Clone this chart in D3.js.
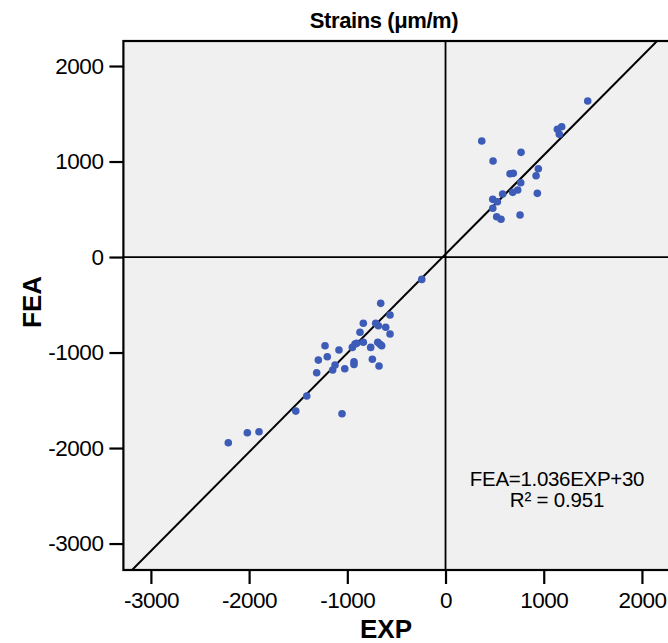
<!DOCTYPE html>
<html>
<head>
<meta charset="utf-8">
<script src="https://cdn.jsdelivr.net/npm/d3@7"></script>
<style>
  html, body { margin: 0; padding: 0; background: #ffffff; }
  svg { display: block; }
  text { font-family: "Liberation Sans", Arial, sans-serif; fill: #000; }
</style>
</head>
<body>
<svg id="chart" width="668" height="643"></svg>
<script>
// ---- data ----
const expVals = [
  1448, 1139, 1183, 1159, 369, 769, 484, 945, 922, 657, 690, 766, 582, 684, 735, 935, 481, 528, 481, 521, 565, 759,
  -242,
  -660, -565, -837, -711, -684, -609, -871, -565, -922, -904, -837, -690, -667, -650, -949, -762,
  -1227, -1085, -1295, -1204, -1125, -1149, -1026, -932, -932, -745, -677, -1312, -1413, -1525, -1054,
  -2018, -1899, -2212
];
const feaVals = [
  1634, 1337, 1364, 1285, 1215, 1096, 1005, 925, 851, 872, 876, 778, 660, 677, 702, 667, 604, 579, 510, 422, 395, 440,
  -234,
  -485, -607, -694, -694, -719, -736, -788, -806, -911, -904, -893, -893, -914, -929, -946, -946,
  -929, -974, -1079, -1044, -1131, -1183, -1170, -1096, -1124, -1071, -1141, -1212, -1455, -1613, -1641,
  -1840, -1829, -1945
];
const xTicks = [-3000, -2000, -1000, 0, 1000, 2000];
const yTicks = [-3000, -2000, -1000, 0, 1000, 2000];
const slope = 1.036;
const intercept = 30;
const titleText = "Strains (\u03bcm/m)";
const xLabel = "EXP";
const yLabel = "FEA";
const eqLine1 = "FEA=1.036EXP+30";
const eqLine2 = "R\u00b2 = 0.951";

// ---- layout ----
const svg = d3.select("#chart");
const x = d3.scaleLinear().domain([-3280, 2300]).range([123.4, 671.4]);
const y = d3.scaleLinear().domain([-3277, 2262]).range([570, 41]);
const [x0, x1] = x.range();
const [y1, y0] = y.range();

svg.append("defs").append("clipPath").attr("id", "plotclip")
  .append("rect").attr("x", x0).attr("y", y0).attr("width", x1 - x0).attr("height", y1 - y0);

// background
svg.append("rect").attr("x", x0).attr("y", y0).attr("width", x1 - x0).attr("height", y1 - y0)
  .attr("fill", "#f0f0f0");

const plot = svg.append("g").attr("clip-path", "url(#plotclip)");

// zero reference lines
plot.append("line").attr("x1", x(0)).attr("x2", x(0)).attr("y1", y0).attr("y2", y1)
  .attr("stroke", "#000").attr("stroke-width", 1.8);
plot.append("line").attr("x1", x0).attr("x2", x1).attr("y1", y(0)).attr("y2", y(0))
  .attr("stroke", "#000").attr("stroke-width", 1.8);

// regression line
const dom = x.domain();
plot.append("line")
  .attr("x1", x(dom[0])).attr("y1", y(slope * dom[0] + intercept))
  .attr("x2", x(dom[1])).attr("y2", y(slope * dom[1] + intercept))
  .attr("stroke", "#000").attr("stroke-width", 2);

// points
plot.selectAll("circle.pt").data(expVals.map((v, i) => [v, feaVals[i]]))
  .enter().append("circle").attr("class", "pt")
  .attr("cx", d => x(d[0])).attr("cy", d => y(d[1])).attr("r", 3.8)
  .attr("fill", "#3d5cb8");

// frame
svg.append("rect").attr("x", x0).attr("y", y0).attr("width", x1 - x0).attr("height", y1 - y0)
  .attr("fill", "none").attr("stroke", "#000").attr("stroke-width", 2.2);

// axes
const fmt = d => String(d);
const xAxis = svg.append("g").attr("transform", `translate(0,${y1})`)
  .call(d3.axisBottom(x).tickValues(xTicks).tickSize(14).tickPadding(8).tickFormat(fmt));
const yAxis = svg.append("g").attr("transform", `translate(${x0},0)`)
  .call(d3.axisLeft(y).tickValues(yTicks).tickSize(14).tickPadding(6).tickFormat(fmt));
[xAxis, yAxis].forEach(g => {
  g.select(".domain").remove();
  g.selectAll(".tick line").attr("stroke", "#000").attr("stroke-width", 2.2);
  g.selectAll(".tick text").attr("font-family", "'Liberation Sans', Arial, sans-serif")
    .attr("font-size", 22.5).attr("fill", "#000").style("letter-spacing", "-0.5px");
});
xAxis.selectAll(".tick text").attr("dy", "0.71em");

// title
svg.append("text").attr("x", 384).attr("y", 28).attr("text-anchor", "middle")
  .attr("font-size", 22).attr("font-weight", "bold").style("letter-spacing", "-0.4px").text(titleText);

// axis titles
svg.append("text").attr("x", 386).attr("y", 638).attr("text-anchor", "middle")
  .attr("font-size", 26).attr("font-weight", "bold").text(xLabel);
svg.append("text").attr("transform", `translate(41,302) rotate(-90)`).attr("text-anchor", "middle")
  .attr("font-size", 26).attr("font-weight", "bold").text(yLabel);

// equation
svg.append("text").attr("x", 557).attr("y", 486).attr("text-anchor", "middle")
  .attr("font-size", 20.5).style("letter-spacing", "-0.3px").text(eqLine1);
svg.append("text").attr("x", 557).attr("y", 507).attr("text-anchor", "middle")
  .attr("font-size", 20.5).style("letter-spacing", "-0.2px").text(eqLine2);
</script>
</body>
</html>
